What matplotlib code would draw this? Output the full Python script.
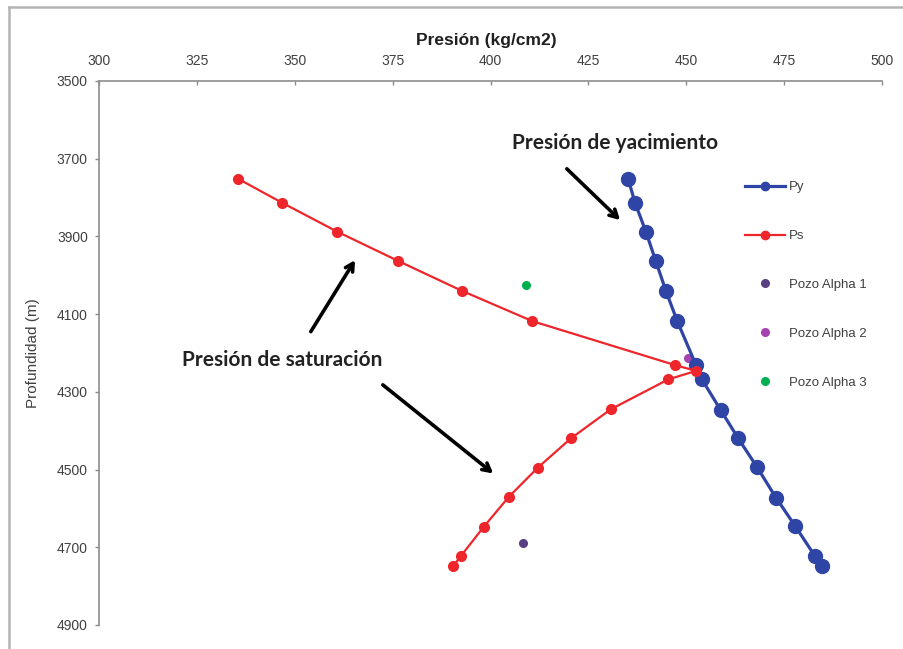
import matplotlib
matplotlib.use("Agg")
import matplotlib.pyplot as plt
from matplotlib.lines import Line2D

# ---- data ----
py_presion = [435.2, 436.9, 439.7, 442.2, 444.8, 447.7, 452.5, 454.0, 458.8,
              463.3, 468.1, 472.9, 477.8, 482.9, 484.6]
py_prof = [3753, 3813, 3888, 3963, 4040, 4118, 4231, 4268, 4347,
           4420, 4494, 4572, 4645, 4723, 4748]

ps_presion = [335.6, 346.7, 360.9, 376.4, 392.7, 410.7, 447.1, 452.5,
              445.4, 430.7, 420.5, 412.1, 404.7, 398.3, 392.4, 390.5]
ps_prof = [3752, 3813, 3888, 3963, 4040, 4118, 4231, 4246,
           4268, 4345, 4420, 4495, 4570, 4647, 4723, 4748]

alpha1 = (408.4, 4690)
alpha2 = (450.5, 4214)
alpha3 = (409.1, 4025)

x_ticks = [300, 325, 350, 375, 400, 425, 450, 475, 500]
y_ticks = [3500, 3700, 3900, 4100, 4300, 4500, 4700, 4900]

# ---- figure ----
W, H = 904, 649
fig = plt.figure(figsize=(W / 100, H / 100), dpi=100)
ax = fig.add_axes([99 / W, 1 - 625 / H, (882 - 99) / W, (625 - 81) / H])

tc = "#404040"
blue = "#2F45A6"
red = "#EE262B"

ax.plot(py_presion, py_prof, "-o", color=blue, lw=2.3, ms=10, label="Py", zorder=3)
ax.plot(ps_presion, ps_prof, "-o", color=red, lw=1.6, ms=7, label="Ps", zorder=4)
ax.plot([alpha1[0]], [alpha1[1]], "o", color="#5A3F82", ms=5.5, ls="none", label="Pozo Alpha 1", zorder=2)
ax.plot([alpha2[0]], [alpha2[1]], "o", color="#A543B0", ms=5.5, ls="none", label="Pozo Alpha 2", zorder=2)
ax.plot([alpha3[0]], [alpha3[1]], "o", color="#00B050", ms=5.5, ls="none", label="Pozo Alpha 3", zorder=2)

ax.set_xlim(300, 500)
ax.set_ylim(4900, 3500)
ax.set_xticks(x_ticks)
ax.set_yticks(y_ticks)
ax.xaxis.tick_top()

for s in ["right", "bottom"]:
    ax.spines[s].set_visible(False)
for s in ["top", "left"]:
    ax.spines[s].set_color("#8C8C8C")
    ax.spines[s].set_linewidth(1.2)

ax.tick_params(axis="x", direction="in", length=3, width=1, color="#8C8C8C",
               labelsize=10, labelcolor=tc, pad=9.5)
ax.tick_params(axis="y", direction="out", length=3, width=1, color="#8C8C8C",
               labelsize=10, labelcolor=tc, pad=5)
for lab in ax.get_xticklabels() + ax.get_yticklabels():
    lab.set_fontfamily("Liberation Sans")

# top axis title
fig.text(486 / W, 1 - 40 / H, "Presión (kg/cm2)", fontsize=12.5, fontweight="bold",
         family="Liberation Sans", color="#202020", ha="center", va="center")
ax.set_ylabel("Profundidad (m)", fontsize=11, family="Liberation Sans",
              color=tc, labelpad=12)

# annotations
ann_font = dict(fontsize=15, fontweight="bold", family="Lato", color="#222222")
ax.text(431.8, 3660, "Presión de yacimiento", ha="center", va="center", **ann_font)
ax.text(346.7, 4218, "Presión de saturación", ha="center", va="center", **ann_font)

arrow_kw = dict(arrowstyle="->,head_length=0.55,head_width=0.3", color="black",
                lw=2.6, shrinkA=0, shrinkB=0)
arrows = [((419.5, 3726), (433.1, 3858)),
          ((354.1, 4145), (365.4, 3961)),
          ((372.5, 4282), (400.7, 4510))]
for tail, head in arrows:
    ax.annotate("", xy=head, xytext=tail, arrowprops=arrow_kw)

leg = ax.legend(loc="upper left", bbox_to_anchor=(745 / W, 1 - 181 / H),
                bbox_transform=fig.transFigure, frameon=False,
                prop={"family": "Liberation Sans", "size": 9.5},
                labelspacing=2.78, handlelength=3.0, handletextpad=0.35,
                borderaxespad=0, borderpad=0)
for t in leg.get_texts():
    t.set_color(tc)
for h in leg.legend_handles[:2]:
    h.set_markersize(6)

# outer frame (partially cropped)
fig.add_artist(Line2D([9 / W, 1], [1 - 7 / H, 1 - 7 / H], transform=fig.transFigure,
                      color="#B4B4B4", lw=1.8))
fig.add_artist(Line2D([9 / W, 9 / W], [0, 1 - 7 / H], transform=fig.transFigure,
                      color="#B4B4B4", lw=1.8))

fig.savefig("out.png", dpi=100)
